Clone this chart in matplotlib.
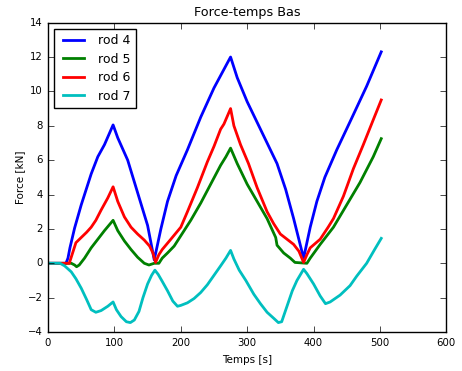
import matplotlib
matplotlib.use("Agg")
import matplotlib.pyplot as plt

plt.style.use("classic")

# Daten
t_rod4 = [0, 27, 30, 33, 40, 50, 65, 75, 85, 98, 105, 120, 135, 150, 160, 170, 180, 193, 210,
          230, 250, 275, 285, 300, 320, 345, 358, 370, 385, 395, 405, 417, 435, 457, 480, 502]
f_rod4 = [0, 0, 0.3, 0.9, 2.05, 3.4, 5.2, 6.2, 6.9, 8.05, 7.3, 6.0, 4.1, 2.2, 0.2, 2.0, 3.6, 5.1, 6.6,
          8.5, 10.2, 12.0, 10.8, 9.4, 7.8, 5.8, 4.3, 2.6, 0.3, 2.1, 3.6, 5.0, 6.6, 8.4, 10.3, 12.3]

t_rod5 = [0, 35, 40, 43, 47, 55, 65, 75, 85, 98, 105, 115, 125, 135, 145, 152, 160, 167, 172,
          180, 190, 200, 215, 230, 245, 260, 268, 275, 285, 300, 315, 330, 343, 345, 355, 365,
          372, 390, 395, 410, 430, 450, 470, 490, 502]
f_rod5 = [0, 0, -0.1, -0.2, -0.1, 0.3, 0.9, 1.4, 1.9, 2.5, 1.9, 1.3, 0.8, 0.35, 0.0, -0.1, 0.0,
          0.0, 0.3, 0.6, 1.0, 1.6, 2.5, 3.5, 4.6, 5.7, 6.2, 6.7, 5.8, 4.6, 3.6, 2.6, 1.5, 1.05,
          0.6, 0.3, 0.05, 0.0, 0.3, 1.1, 2.1, 3.4, 4.7, 6.2, 7.25]

t_rod6 = [0, 32, 37, 42, 50, 58, 65, 72, 80, 90, 98, 105, 115, 125, 135, 145, 153, 158, 162,
          167, 172, 185, 200, 210, 225, 240, 250, 260, 265, 275, 280, 290, 302, 315, 330, 340,
          350, 360, 370, 378, 385, 390, 395, 410, 422, 430, 445, 460, 475, 490, 502]
f_rod6 = [0, 0, 0.6, 1.2, 1.5, 1.8, 2.1, 2.5, 3.1, 3.8, 4.45, 3.6, 2.7, 2.1, 1.7, 1.35, 1.0, 0.6,
          0.05, 0.5, 0.8, 1.4, 2.1, 3.0, 4.4, 5.9, 6.8, 7.8, 8.1, 9.0, 8.0, 6.9, 5.8, 4.4, 3.0,
          2.3, 1.7, 1.4, 1.1, 0.7, 0.05, 0.5, 0.9, 1.4, 2.1, 2.6, 3.9, 5.5, 6.9, 8.35, 9.5]

t_rod7 = [0, 18, 25, 35, 42, 50, 58, 65, 72, 80, 90, 98, 103, 110, 118, 124, 130, 137, 143,
          150, 156, 161, 166, 172, 180, 188, 195, 200, 210, 220, 230, 240, 250, 260, 268, 275,
          280, 288, 298, 310, 320, 330, 340, 347, 352, 360, 368, 375, 385, 390, 400, 410, 418,
          425, 440, 455, 465, 480, 492, 502]
f_rod7 = [0, 0, -0.15, -0.5, -0.9, -1.45, -2.1, -2.7, -2.85, -2.75, -2.5, -2.25, -2.7, -3.1,
          -3.4, -3.45, -3.3, -2.8, -2.0, -1.2, -0.7, -0.4, -0.65, -1.05, -1.6, -2.2, -2.5, -2.45,
          -2.3, -2.05, -1.7, -1.25, -0.7, -0.15, 0.3, 0.75, 0.25, -0.4, -1.0, -1.8, -2.35, -2.85,
          -3.2, -3.45, -3.4, -2.5, -1.6, -1.0, -0.35, -0.6, -1.2, -1.9, -2.35, -2.25, -1.85, -1.3,
          -0.75, 0.0, 0.8, 1.45]

fig = plt.figure(figsize=(4.62, 3.71), dpi=100, facecolor="white")
ax = fig.add_axes([0.104, 0.105, 0.862, 0.834])

ax.plot(t_rod4, f_rod4, color="b", lw=2, label="rod 4")
ax.plot(t_rod5, f_rod5, color="g", lw=2, label="rod 5")
ax.plot(t_rod6, f_rod6, color="r", lw=2, label="rod 6")
ax.plot(t_rod7, f_rod7, color="c", lw=2, label="rod 7")

ax.set_xlim(0, 600)
ax.set_ylim(-4, 14)
ax.set_title("Force-temps Bas", fontsize=9.2)
ax.set_xlabel("Temps [s]", fontsize=7.5)
ax.set_ylabel("Force [kN]", fontsize=7.5, labelpad=2)
ax.tick_params(labelsize=7.3)
ax.legend(loc="upper left", fontsize=9, labelspacing=0.45, handlelength=2.3)

fig.savefig("out.png", dpi=100, facecolor="white")
